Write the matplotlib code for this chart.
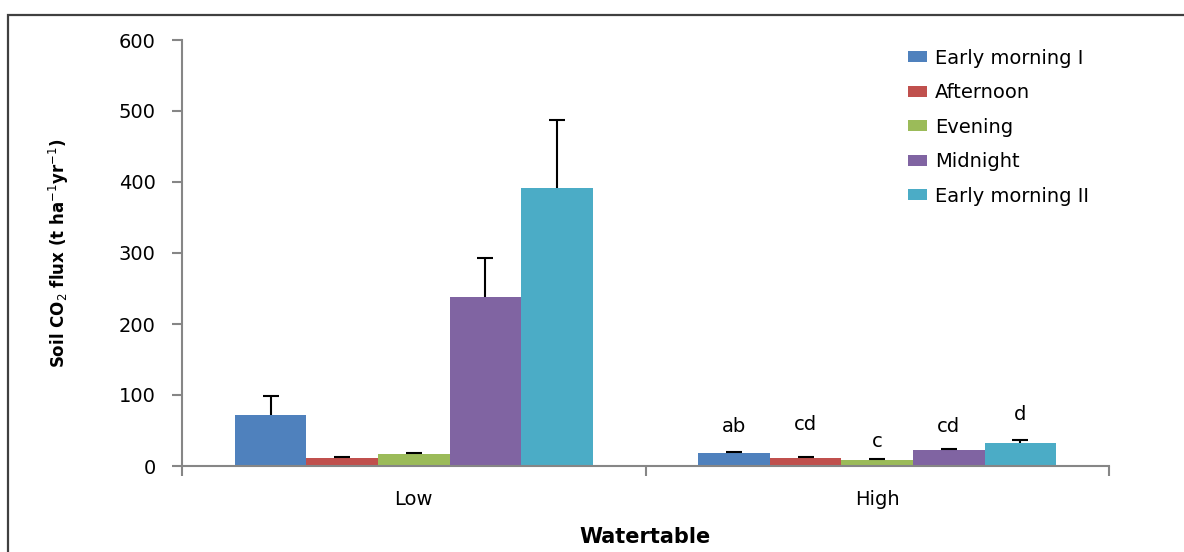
import numpy as np
import matplotlib
matplotlib.use("Agg")
import matplotlib.pyplot as plt
from matplotlib.patches import Rectangle

# data
groups = ["Low", "High"]
series = ["Early morning I", "Afternoon", "Evening", "Midnight", "Early morning II"]
colors = ["#4F81BD", "#C0504D", "#9BBB59", "#8064A2", "#4BACC6"]
# rows = series, columns = groups
means = [[72, 18],
         [11, 11],
         [17, 8.5],
         [238, 22],
         [391, 32]]
errors = [[27, 2],
          [1.5, 1.5],
          [2, 1.5],
          [55, 1.5],
          [96, 5]]
high_letters = ["ab", "cd", "c", "cd", "d"]
letter_y = [55, 58, 35, 55, 72]

plt.rcParams['font.family'] = ['DejaVu Sans']

fig = plt.figure(figsize=(11.84, 5.52), dpi=100)
ax = fig.add_axes([182/1184, 86/552, 927/1184, 426/552])

# outer chart border (cut off on right and bottom like the original)
fig.patches.append(Rectangle((8/1184, -0.1), 1.2, (552-15)/552 + 0.1,
                             transform=fig.transFigure, fill=False,
                             ec="#404040", lw=1.6))

x = np.arange(len(groups)) + 0.5
w = 0.1545
for i, name in enumerate(series):
    pos = x + (i - 2) * w
    ax.bar(pos, means[i], w, color=colors[i], label=name, zorder=2)
    eb = ax.errorbar(pos, means[i], yerr=[np.zeros(len(groups)), errors[i]],
                     fmt="none", ecolor="black", elinewidth=1.5, capsize=6,
                     capthick=1.5, zorder=3)
    # only the upper cap
    eb[1][0].set_visible(False)
    ax.text(pos[1], letter_y[i], high_letters[i], ha="center", va="center",
            fontsize=14)

ax.set_xlim(0, 2)
ax.set_ylim(0, 600)
ax.set_yticks(range(0, 601, 100))
ax.set_xticks([0, 1, 2], minor=False)
ax.set_xticklabels([])
ax.set_xticks(x, minor=True)
ax.set_xticklabels(groups, minor=True, fontsize=14)
ax.tick_params(axis="x", which="minor", length=0, pad=17)
ax.tick_params(axis="x", which="major", length=7, width=1.5, color="#868686")
ax.tick_params(axis="y", length=7, width=1.5, color="#868686", labelsize=14, pad=12)

for s in ["top", "right"]:
    ax.spines[s].set_visible(False)
for s in ["left", "bottom"]:
    ax.spines[s].set_color("#868686")
    ax.spines[s].set_linewidth(1.5)

ax.set_ylabel(r"Soil CO$_2$ flux (t ha$^{-1}$yr$^{-1}$)", fontsize=12,
              fontweight="bold", labelpad=34)
ax.set_xlabel("Watertable", fontsize=15, fontweight="bold", labelpad=13)

ax.legend(loc="upper left", bbox_to_anchor=(890/1184, 1 - 31/552),
          bbox_transform=fig.transFigure, frameon=False, fontsize=14,
          handlelength=1.0, handleheight=0.5, handletextpad=0.4,
          labelspacing=0.8)

fig.savefig("out.png", dpi=100)
